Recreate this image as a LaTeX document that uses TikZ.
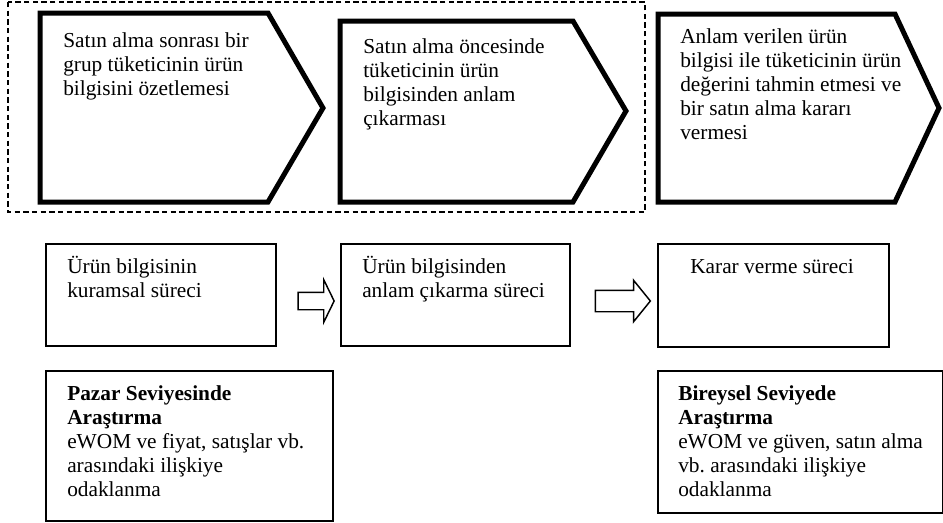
\documentclass[tikz,border=0pt]{standalone}
\usepackage{fontspec}
\setmainfont{Liberation Serif}
\usetikzlibrary{shapes.arrows}

\newcommand{\stack}[1]{\begin{tabular}[t]{@{}l@{}}#1\end{tabular}}
\frenchspacing

\tikzset{
  frame/.style={dashed, line width=1.1pt, dash pattern=on 4pt off 2.5pt},
  chev/.style={line width=3.75pt, line join=miter},
  box/.style={draw, line width=1.5pt, inner sep=0pt, anchor=north west},
  txt/.style={anchor=base west, inner sep=0pt, font=\fontsize{16}{18}\selectfont},
  hollow/.style={single arrow, draw, line width=1.1pt, inner sep=0pt}
}

\begin{document}
\begin{tikzpicture}[x=0.75pt,y=-0.75pt]
\useasboundingbox (0,0) rectangle (943,522);

% dashed frame
\draw[frame] (8,2) rectangle (645,212);

% top row
\draw[chev] (40,13) -- (268,13) -- (323,108) -- (268,202) -- (40,202) -- cycle;
\draw[chev] (340,21) -- (573,21) -- (626,111) -- (573,202) -- (340,202) -- cycle;
\draw[chev] (658,14) -- (895,14) -- (939,108) -- (895,202) -- (658,202) -- cycle;
\node[txt] (step1) at (63,47) {\stack{Satın alma sonrası bir\\grup tüketicinin ürün\\bilgisini özetlemesi}};
\node[txt] (step2) at (363,53) {\stack{Satın alma öncesinde\\tüketicinin ürün\\bilgisinden anlam\\çıkarması}};
\node[txt] (step3) at (680,43) {\stack{Anlam verilen ürün\\bilgisi ile tüketicinin ürün\\değerini tahmin etmesi ve\\bir satın alma kararı\\vermesi}};

% middle row
\node[box, minimum width=172.5pt, minimum height=76.5pt] (proc1) at (45,243) {};
\node[box, minimum width=171.75pt, minimum height=76.5pt] (proc2) at (340,243) {};
\node[box, minimum width=173.25pt, minimum height=77.25pt] (proc3) at (657,243) {};
\node[txt] (proc1t) at (67,273) {\stack{Ürün bilgisinin\\kuramsal süreci}};
\node[txt] (proc2t) at (362,273) {\stack{Ürün bilgisinden\\anlam çıkarma süreci}};
\node[txt] (proc3t) at (690,273) {Karar verme süreci};
\node[hollow, minimum height=27pt, text height=6pt, text depth=6pt, single arrow head extend=9.4pt, single arrow tip angle=128] (arr1) at (314,301) {};
\node[hollow, minimum height=41.25pt, text height=7.5pt, text depth=7.5pt, single arrow head extend=7.5pt, single arrow tip angle=102] (arr2) at (618.5,301) {};

% bottom row
\node[box, minimum width=215.25pt, minimum height=112.5pt] (level1) at (45,370) {};
\node[box, minimum width=213.75pt, minimum height=106.5pt] (level2) at (657,370) {};
\node[txt] (level1t) at (67,400) {\stack{\textbf{Pazar Seviyesinde}\\\textbf{Araştırma}\\eWOM ve fiyat, satışlar vb.\\arasındaki ilişkiye\\odaklanma}};
\node[txt] (level2t) at (678,400) {\stack{\textbf{Bireysel Seviyede}\\\textbf{Araştırma}\\eWOM ve güven, satın alma\\vb. arasındaki ilişkiye\\odaklanma}};
\end{tikzpicture}
\end{document}
